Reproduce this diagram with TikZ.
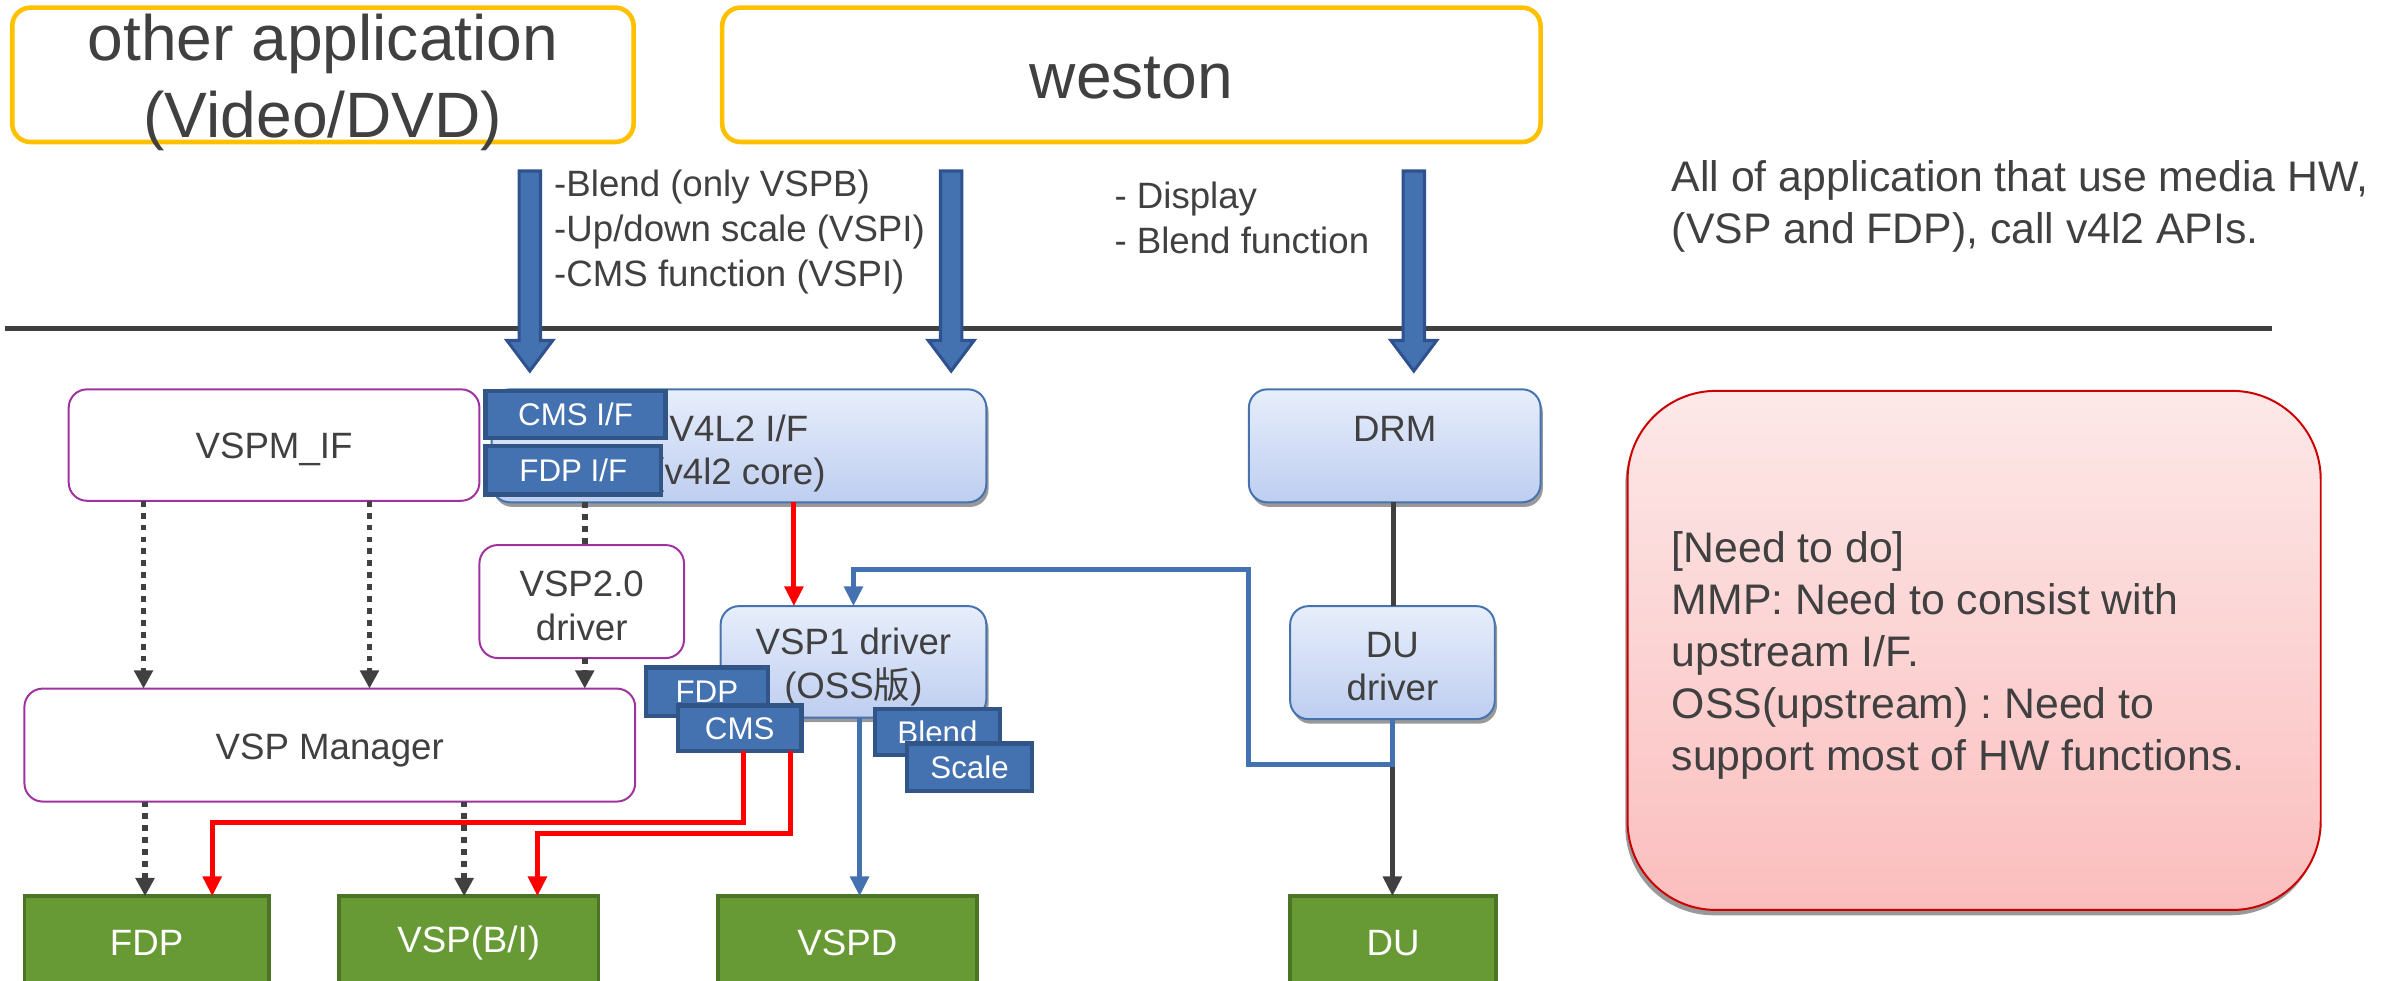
\documentclass[tikz,border=0pt]{standalone}
\usepackage{fontspec}
\setmainfont{Liberation Sans}
\newfontfamily\cjkfont{Noto Sans CJK SC}
\usetikzlibrary{arrows.meta,shadows}
\frenchspacing
\definecolor{txt}{RGB}{64,64,64}
\definecolor{ybord}{RGB}{255,192,0}
\definecolor{pbord}{RGB}{160,50,160}
\definecolor{bbord}{RGB}{70,115,175}
\definecolor{btop}{RGB}{231,238,251}
\definecolor{bbot}{RGB}{190,206,240}
\definecolor{dbfill}{RGB}{68,114,176}
\definecolor{dbbord}{RGB}{50,85,135}
\definecolor{gfill}{RGB}{103,153,52}
\definecolor{gbord}{RGB}{76,116,37}
\definecolor{nred}{RGB}{204,0,0}
\definecolor{ntop}{RGB}{253,232,232}
\definecolor{nbot}{RGB}{251,190,190}
\definecolor{arrbord}{RGB}{47,82,143}
\definecolor{redc}{RGB}{255,0,0}
\definecolor{bluec}{RGB}{68,114,176}
\tikzset{
  every node/.style={text=txt, inner sep=0pt, outer sep=0pt},
  boxlbl/.style={align=center, font=\fontsize{24}{28.5}\selectfont, text=txt},
  yelbox/.style={draw=ybord, line width=3pt, rounded corners=12pt, fill=white},
  purbox/.style={draw=pbord, line width=1.3pt, rounded corners=12pt, fill=white},
  bluebox/.style={draw=bbord, line width=1.3pt, rounded corners=12pt, top color=btop, bottom color=bbot, drop shadow={shadow xshift=1.5pt, shadow yshift=-3pt, fill=black!40, opacity=1}},
  dbbox/.style={draw=dbbord, line width=3pt, fill=dbfill, text=white, font=\fontsize{20.5}{24}\selectfont},
  greenbox/.style={draw=gbord, line width=2.5pt, fill=gfill, text=white, font=\fontsize{24}{28}\selectfont},
  notebox/.style={draw=nred, line width=1.3pt, rounded corners=58pt, top color=ntop, bottom color=nbot, drop shadow={shadow xshift=-1.5pt, shadow yshift=-3.5pt, fill=black!40, opacity=1}},
  lbl/.style={anchor=west, align=left, font=\fontsize{24}{29.5}\selectfont},
  blockarrow/.style={fill=dbfill, draw=arrbord, line width=2pt, line join=miter},
  dotline/.style={draw=txt, line width=3.8pt, dash pattern=on 3.8pt off 4pt},
  dotarr/.style={dotline, -{Triangle[length=12pt,width=12pt]}},
  redarr/.style={draw=redc, line width=3.3pt, -{Triangle[length=13pt,width=12pt]}},
  bluearr/.style={draw=bluec, line width=3.2pt, -{Triangle[length=13pt,width=12pt]}},
  darkline/.style={draw=txt, line width=3.3pt},
  darkarr/.style={darkline, -{Triangle[length=13pt,width=12pt]}},
}
\begin{document}
\begin{tikzpicture}[x=1pt,y=-1pt]
\useasboundingbox (0,0) rectangle (1568,642);

% top applications
\node[yelbox, minimum width=407pt, minimum height=88pt,
  label={[boxlbl, font=\fontsize{42}{50}\selectfont, yshift=-5pt]center:other application\\(Video/DVD)}] (app) at (211.5,49) {};
\node[yelbox, minimum width=536pt, minimum height=88pt,
  label={[boxlbl, font=\fontsize{42}{50}\selectfont, yshift=-2pt]center:weston}] (weston) at (741,49) {};

% labels
\node[lbl] (lblv4l2) at (363,152) {-Blend (only VSPB)\\-Up/down scale (VSPI)\\-CMS function (VSPI)};
\node[lbl] (lbldrm) at (730,142.5) {- Display\\- Blend function};
\node[lbl, font=\fontsize{28}{34}\selectfont] (lblall) at (1095,135) {All of application that use media HW,\\(VSP and FDP), call v4l2 APIs.};

% separator line
\coordinate (hl) at (3,215);
\coordinate (hr) at (1488,215);
\draw[line width=3pt, txt] (hl) -- (hr);

% block arrows
\coordinate (ba1) at (347,112);
\coordinate (ba2) at (623,112);
\coordinate (ba3) at (926,112);
\foreach \c in {ba1,ba2,ba3}{
  \draw[blockarrow, shift={(\c)}] (-7,0) -- (-7,111) -- (-15,111) -- (0,131) -- (15,111) -- (7,111) -- (7,0) -- cycle;
}

% middle layer boxes
\node[purbox, minimum width=269pt, minimum height=73pt,
  label={[boxlbl, yshift=-3pt]center:VSPM\_IF}] (vspmif) at (179.5,291.5) {};
\node[bluebox, minimum width=324pt, minimum height=74pt,
  label={[boxlbl, yshift=-5pt]center:V4L2 I/F\\(v4l2 core)}] (v4l2) at (484,292) {};
\node[dbbox, minimum width=118pt, minimum height=31pt] (cmsif) at (377,271.5) {CMS I/F};
\node[dbbox, minimum width=115pt, minimum height=32pt] (fdpif) at (375.5,308) {FDP I/F};
\node[purbox, minimum width=134pt, minimum height=74pt,
  label={[boxlbl, yshift=-3pt]center:VSP2.0\\driver}] (vsp20) at (381,394) {};
\node[bluebox, minimum width=174pt, minimum height=73pt,
  label={[boxlbl, yshift=-3.5pt]center:VSP1 driver\\(OSS{\cjkfont 版})}] (vsp1) at (559,433.5) {};
\node[dbbox, minimum width=80pt, minimum height=32pt] (fdpm) at (463,453) {FDP};
\node[dbbox, minimum width=81pt, minimum height=30pt] (cmsm) at (484.5,477) {CMS};
\node[dbbox, minimum width=82pt, minimum height=30pt] (blendm) at (614,479.5) {Blend};
\node[dbbox, minimum width=82pt, minimum height=31pt] (scalem) at (635,502.5) {Scale};
\node[purbox, minimum width=400pt, minimum height=74pt,
  label={[boxlbl, yshift=-3.5pt]center:VSP Manager}] (vspmgr) at (216,488) {};
\node[bluebox, minimum width=191pt, minimum height=74pt,
  label={[boxlbl, yshift=11pt]center:DRM}] (drm) at (913.5,292) {};
\node[bluebox, minimum width=134pt, minimum height=74pt,
  label={[boxlbl, yshift=-2.5pt]center:DU\\driver}] (dudrv) at (912,434) {};

% note
\node[notebox, minimum width=454pt, minimum height=340pt] (note) at (1293,426) {};
\node[lbl, font=\fontsize{28}{34}\selectfont] (notetxt) at (1095,429.5) {[Need to do]\\MMP: Need to consist with\\upstream I/F.\\OSS(upstream) : Need to\\support most of HW functions.};

% hardware
\node[greenbox, minimum width=160pt, minimum height=61pt] (fdp) at (96,617.5) {FDP};
\node[greenbox, minimum width=170pt, minimum height=61pt] (vspb) at (307,617.5) {VSP(B/I)};
\node[greenbox, minimum width=170pt, minimum height=61pt] (vspd) at (555,617.5) {VSPD};
\node[greenbox, minimum width=135pt, minimum height=61pt] (du) at (912.5,617.5) {DU};

% dotted connectors
\draw[dotarr] (94,0 |- vspmif.south) -- (94,0 |- vspmgr.north);
\draw[dotarr] (242,0 |- vspmif.south) -- (242,0 |- vspmgr.north);
\draw[dotline] (383,0 |- v4l2.south) -- (383,0 |- vsp20.north);
\draw[dotarr] (383,0 |- vsp20.south) -- (383,0 |- vspmgr.north);
\draw[dotarr] (95,0 |- vspmgr.south) -- (95,0 |- fdp.north);
\draw[dotarr] (304,0 |- vspmgr.south) -- (304,0 |- vspb.north);

% red connectors
\draw[redarr] (520,0 |- v4l2.south) -- (520,0 |- vsp1.north);
\draw[redarr] (487,0 |- cmsm.south) |- (139,539) -- (139,0 |- fdp.north);
\draw[redarr] (518,0 |- cmsm.south) |- (352,546) -- (352,0 |- vspb.north);

% DRM / DU
\draw[darkline] (913,0 |- drm.south) -- (913,0 |- dudrv.north);
\draw[darkarr] (912,0 |- dudrv.south) -- (912,0 |- du.north);

% blue connectors
\draw[bluearr] (563,0 |- vsp1.south) -- (563,0 |- vspd.north);
\draw[bluearr] (912,0 |- dudrv.south) -- (912,501) -| (818,373) -| (559,0 |- vsp1.north);
\end{tikzpicture}
\end{document}
